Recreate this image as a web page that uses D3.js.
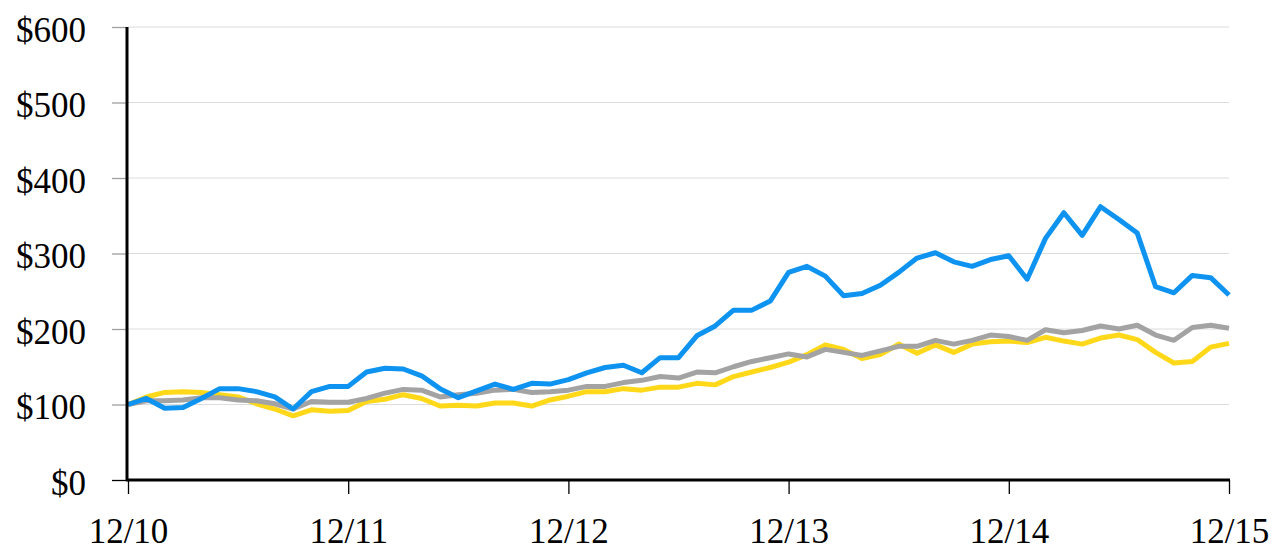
<!DOCTYPE html>
<html>
<head>
<meta charset="utf-8">
<script src="https://cdn.jsdelivr.net/npm/d3@7"></script>
<style>
  html, body { margin: 0; padding: 0; background: #fff; }
  svg { display: block; }
</style>
</head>
<body>
<svg id="chart" width="1278" height="550"></svg>
<script>
// ---- data (monthly, Dec 2010 .. Dec 2015) ----
const monthIndex = d3.range(61);
const tickMonths = [0, 12, 24, 36, 48, 60];
const tickLabels = ["12/10", "12/11", "12/12", "12/13", "12/14", "12/15"];
const yTicks = [0, 100, 200, 300, 400, 500, 600];

const blueSeries = [100,108,95,96,108,121,121,117,110,94,117,124,124,143,148,147,138,121,109,118,127,120,128,127,
  133,142,149,152,142,162,162,191,204,225,225,237,275,283,270,244,247,258,275,294,301,289,283,292,
  297,266,320,354,324,362,345,327,256,248,271,268,245];
const graySeries = [100,105,105,106,109,109,106,105,101,94,104,103,103,108,115,120,119,110,113,115,119,120,116,117,
  119,124,124,129,132,137,135,143,142,150,157,162,167,163,173,169,165,171,177,177,185,180,185,192,
  190,185,199,195,198,204,200,205,192,185,202,205,201];
const yellowSeries = [100,110,116,117,116,113,110,101,94,85,93,91,92,104,107,113,108,98,99,98,102,102,98,106,
  111,117,117,121,119,123,123,128,126,137,143,149,156,166,179,173,161,166,180,168,179,169,180,183,
  184,182,189,184,180,188,192,186,169,155,157,176,181];

const svg = d3.select("#chart");
const x = d3.scaleLinear().domain([0, 60]).range([128, 1229]);
const y = d3.scaleLinear().domain([0, 600]).range([480, 27]);
const font = "'Liberation Serif', 'Times New Roman', serif";

// gridlines
svg.append("g").selectAll("line").data(yTicks.filter(d => d > 0)).join("line")
  .attr("x1", x(0)).attr("x2", x(60))
  .attr("y1", d => y(d)).attr("y2", d => y(d))
  .attr("stroke", "#dcdcdc").attr("stroke-width", 1);

// lines
const line = d3.line().x((d, i) => x(monthIndex[i])).y(d => y(d));
const series = [
  { values: yellowSeries, color: "#ffd81a" },
  { values: graySeries, color: "#a3a3a3" },
  { values: blueSeries, color: "#0e93f0" }
];
svg.append("g").selectAll("path").data(series).join("path")
  .attr("d", d => line(d.values))
  .attr("fill", "none")
  .attr("stroke", d => d.color)
  .attr("stroke-width", 5)
  .attr("stroke-linejoin", "round");

// y axis
const yAxis = d3.axisLeft(y).tickValues(yTicks).tickFormat(d => "$" + d)
  .tickSize(15).tickPadding(26);
const yg = svg.append("g").attr("transform", "translate(127,0)").call(yAxis);
yg.select(".domain").remove();
yg.selectAll(".tick line").attr("stroke", d => d === 0 ? "#000" : "#a0a0a0").attr("stroke-width", 1.3);
yg.selectAll(".tick text").attr("font-family", font).attr("font-size", 35)
  .attr("fill", "#000").attr("dy", "0.4em");
svg.append("line").attr("x1", 127).attr("x2", 127).attr("y1", y(600)).attr("y2", y(0) + 1)
  .attr("stroke", "#000").attr("stroke-width", 3);

// x axis
const xAxis = d3.axisBottom(x).tickValues(tickMonths)
  .tickFormat((d, i) => tickLabels[i]).tickSize(14).tickPadding(24);
const xg = svg.append("g").attr("transform", "translate(0,480)").call(xAxis);
xg.select(".domain").remove();
xg.selectAll(".tick line").attr("stroke", "#000").attr("stroke-width", 1.3);
xg.selectAll(".tick text").attr("font-family", font).attr("font-size", 35).attr("fill", "#000");
svg.append("line").attr("x1", 126).attr("x2", x(60) + 1).attr("y1", 480).attr("y2", 480)
  .attr("stroke", "#000").attr("stroke-width", 3);
</script>
</body>
</html>
